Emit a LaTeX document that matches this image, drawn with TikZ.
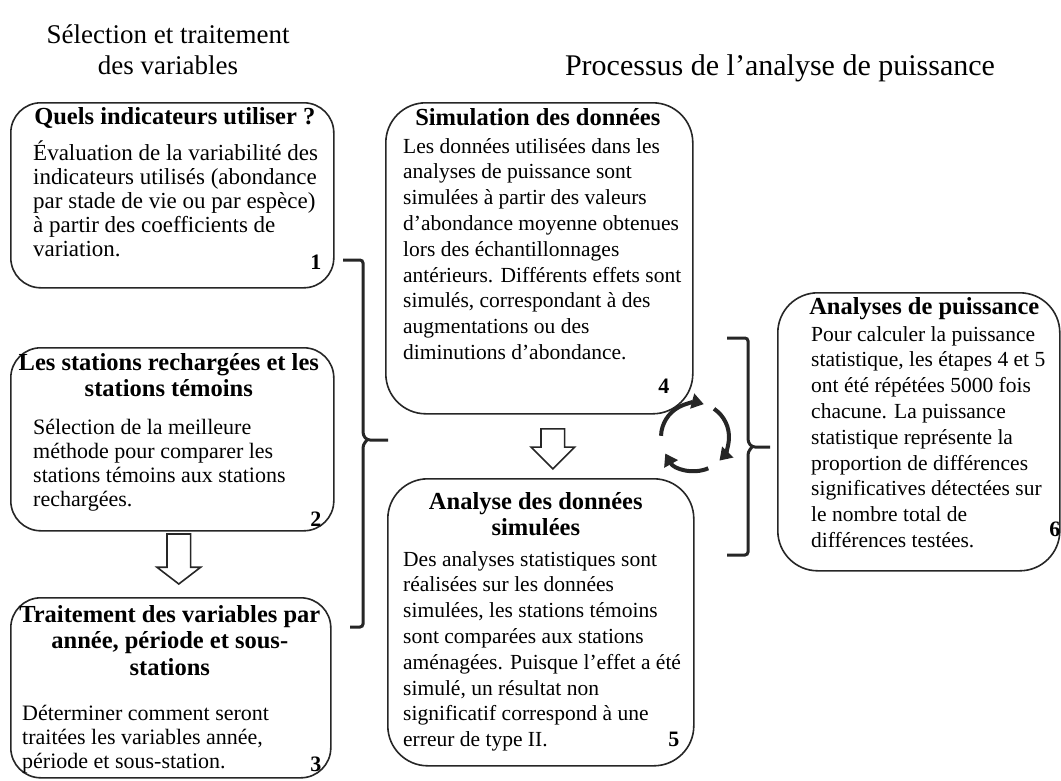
\documentclass[tikz,border=0pt]{standalone}
\usepackage{fontspec}
\setmainfont{Liberation Serif}
\usetikzlibrary{positioning,calc,shapes.arrows,arrows.meta}
\tikzset{
  stepframe/.style={draw=black!85, line width=1.6pt, rounded corners=30pt, inner sep=0pt, anchor=north west},
  headtext/.style={font=\fontsize{24.5}{26.5}\selectfont\bfseries, align=center, inner sep=0pt},
  bodytext/.style={align=left, inner sep=0pt},
  lefttext/.style={bodytext, font=\fontsize{22}{24}\selectfont},
  midtext/.style={bodytext, font=\fontsize{21.5}{25.8}\selectfont},
  righttext/.style={bodytext, font=\fontsize{21.5}{25.8}\selectfont},
  numtext/.style={font=\fontsize{22}{24}\selectfont\bfseries, inner sep=0pt},
  titletext/.style={font=\fontsize{27}{31}\selectfont, align=center, inner sep=0pt},
  hollowarrow/.style={single arrow, draw=black!85, line width=1.6pt, rotate=-90, inner xsep=0pt, inner ysep=11pt, single arrow head extend=10pt, anchor=tip},
  bracket/.style={draw=black!85, line width=3pt, rounded corners=3pt},
  cyclearrow/.style={draw=black!85, line width=4pt, -{Triangle[length=12pt,width=15pt]}},
}
\begin{document}
\begin{tikzpicture}[x=1pt,y=1pt]
  \path[fill=white] (0,0) rectangle (1061,-780);
  \useasboundingbox (0,0) rectangle (1061,-780);
  % titles
  \node[titletext] (ttlL) at (168,-50) {Sélection et traitement\\des variables};
  \node[titletext, font=\fontsize{30}{34}\selectfont] (ttlR) at (780,-68) {Processus de l’analyse de puissance};
  %
  % left column
  \node[stepframe, minimum width=323pt, minimum height=185pt] (box1) at (10,-102) {};
  \node[headtext, below=5pt of box1.north, xshift=2.5pt] (head1) {Quels indicateurs utiliser ?};
  \node[lefttext, font=\fontsize{23}{24}\selectfont, below right=39pt and 23pt of box1.north west] (text1) {Évaluation de la variabilité des\\indicateurs utilisés (abondance\\par stade de vie ou par espèce)\\à partir des coefficients de\\variation.};
  \node[numtext, above left=19pt and 13pt of box1.south east] (num1) {1};
  %
  \node[stepframe, minimum width=323pt, minimum height=183pt] (box2) at (10,-347) {};
  \node[headtext, below=6pt of box2.north, xshift=-3.5pt] (head2) {Les stations rechargées et les\\stations témoins};
  \node[lefttext, below right=72pt and 23pt of box2.north west] (text2) {Sélection de la meilleure\\méthode pour comparer les\\stations témoins aux stations\\rechargées.};
  \node[numtext, above left=5pt and 13pt of box2.south east] (num2) {2};
  %
  \node[stepframe, minimum width=320pt, minimum height=180pt] (box3) at (10,-597) {};
  \node[headtext, below=8pt of box3.north, xshift=-1pt] (head3) {Traitement des variables par\\année, période et sous-\\stations};
  \node[lefttext, below right=108pt and 12pt of box3.north west] (text3) {Déterminer comment seront\\traitées les variables année,\\période et sous-station.};
  \node[numtext, above left=7pt and 10pt of box3.south east] (num3) {3};
  %
  \node[hollowarrow, minimum height=50pt, single arrow tip angle=105] (arr23) at ([xshift=8pt,yshift=12pt]box3.north) {};
  %
  % middle column
  \node[stepframe, rounded corners=40pt, minimum width=307pt, minimum height=311pt] (box4) at (385,-102) {};
  \node[headtext, below=6pt of box4.north, xshift=-1.5pt] (head4) {Simulation des données};
  \node[midtext, below right=36pt and 18pt of box4.north west] (text4) {Les données utilisées dans les\\analyses de puissance sont\\simulées à partir des valeurs\\d’abondance moyenne obtenues\\lors des échantillonnages\\antérieurs. Différents effets sont\\simulés, correspondant à des\\augmentations ou des\\diminutions d’abondance.};
  \node[numtext, above left=21pt and 24pt of box4.south east] (num4) {4};
  %
  \node[stepframe, rounded corners=40pt, minimum width=306pt, minimum height=287pt] (box5) at (387,-478) {};
  \node[headtext, below=14pt of box5.north, xshift=-5pt] (head5) {Analyse des données\\simulées};
  \node[midtext, below right=73pt and 16pt of box5.north west] (text5) {Des analyses statistiques sont\\réalisées sur les données\\simulées, les stations témoins\\sont comparées aux stations\\aménagées. Puisque l’effet a été\\simulé, un résultat non\\significatif correspond à une\\erreur de type II.};
  \node[numtext, above left=20pt and 15pt of box5.south east] (num5) {5};
  %
  \node[hollowarrow, minimum height=40pt, single arrow tip angle=90] (arr45) at ([xshift=12pt,yshift=8pt]box5.north) {};
  %
  % right column
  \node[stepframe, rounded corners=40pt, minimum width=282pt, minimum height=278pt] (box6) at (777,-292) {};
  \node[headtext, below=5pt of box6.north, xshift=5.5pt] (head6) {Analyses de puissance};
  \node[righttext, below right=34pt and 34pt of box6.north west] (text6) {Pour calculer la puissance\\statistique, les étapes 4 et 5\\ont été répétées 5000 fois\\chacune. La puissance\\statistique représente la\\proportion de différences\\significatives détectées sur\\le nombre total de\\différences testées.};
  \node[numtext, above left=35pt and 0pt of box6.south east] (num6) {6};
  %
  % brackets
  \coordinate (braceL) at (388,-440);
  \draw[bracket] (343,-260) -- (363,-260) -- (363,-435) -- (367,-440) -- (braceL);
  \draw[bracket] (367,-440) -- (363,-445) -- (363,-627) -- (350,-627);
  \coordinate (braceR) at (770,-447);
  \draw[bracket] (727,-338) -- (748,-338) -- (748,-442) -- (752,-447) -- (braceR);
  \draw[bracket] (752,-447) -- (748,-452) -- (748,-555) -- (727,-555);
  %
  % cycle
  \coordinate (cyc) at (695,-437);
  \draw[cyclearrow] ([shift={(178:34)}]cyc) arc[start angle=178, end angle=75, radius=34];
  \draw[cyclearrow] ([shift={(56:34)}]cyc) arc[start angle=56, end angle=-44, radius=34];
  \draw[cyclearrow] ([shift={(-67:34)}]cyc) arc[start angle=-67, end angle=-151, radius=34];
\end{tikzpicture}
\end{document}
